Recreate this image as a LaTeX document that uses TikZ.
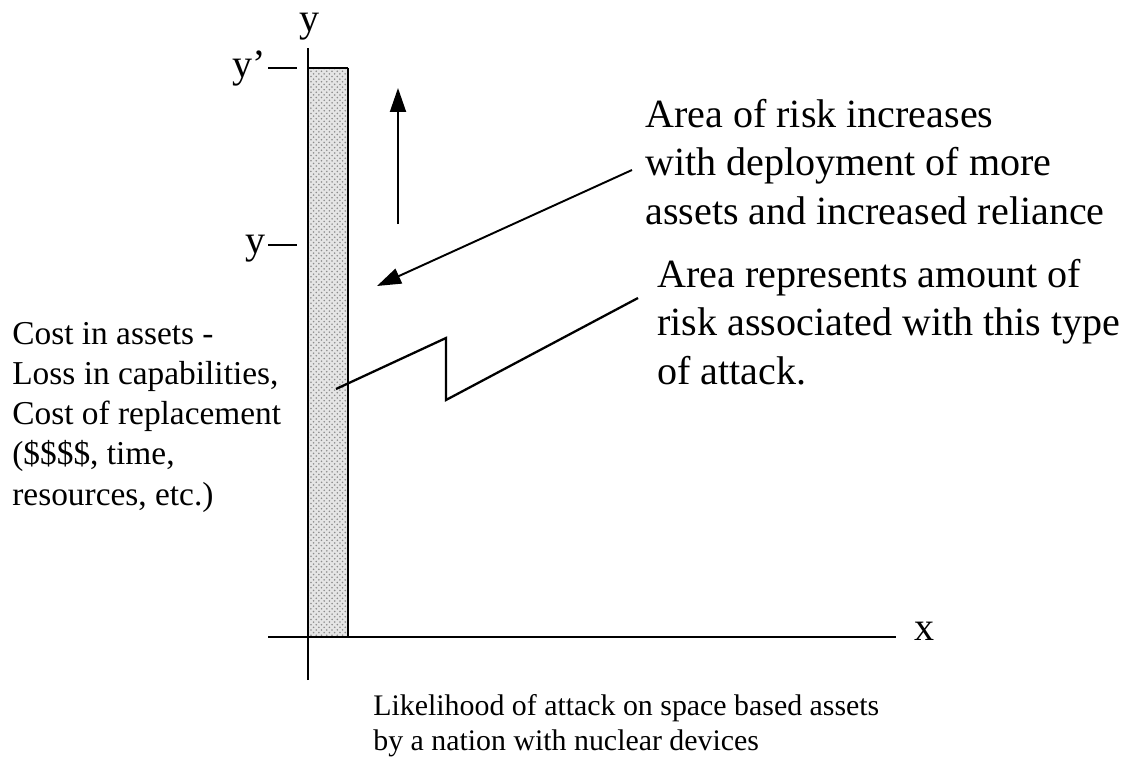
\documentclass[tikz,border=0pt]{standalone}
\usepackage{fontspec}
\setmainfont{Liberation Serif}
\usepackage{tikz}
\usetikzlibrary{arrows.meta, patterns}
\newcommand{\bigtext}{\fontsize{22.8}{27.4}\selectfont}
\newcommand{\midtext}{\fontsize{19}{22.8}\selectfont}
\newcommand{\smalltext}{\fontsize{17}{19.9}\selectfont}

\begin{document}
\begin{tikzpicture}[x=0.02cm, y=-0.02cm]
\useasboundingbox (0,0) rectangle (1130,767);

% shaded area of risk, stippled
\fill[black!10] (308,68) rectangle (348,637);
\fill[pattern=crosshatch dots, pattern color=black!45] (308,68) rectangle (348,637);

% labels, placed at the baseline of their last line
\begin{scope}[every node/.style={inner sep=0pt, anchor=base west, align=left}]
    \node[anchor=base, font=\bigtext] (Y) at (310,32) {y};
    \node[font=\bigtext] (X) at (914,640) {x};
    \node[anchor=base east, font=\bigtext] (Yp) at (266,78) {y’};
    \node[anchor=base east, font=\bigtext] (Y0) at (266,254) {y};
    \node[font=\bigtext] (Grow) at (645,224)
        {Area of risk increases\\with deployment of more\\assets and increased reliance};
    \node[font=\bigtext] (Amount) at (657,384)
        {Area represents amount of\\risk associated with this type\\of attack.};
    \node[font=\midtext] (Cost) at (12,505)
        {Cost in assets -\\Loss in capabilities,\\Cost of replacement\\(\$\$\$\$, time,\\resources, etc.)};
    \node[font=\smalltext] (Likely) at (373,750)
        {Likelihood of attack on space based assets\\by a nation with nuclear devices};
\end{scope}

\coordinate (Ytop) at (308,48);
\coordinate (Ybot) at (308,680);
\coordinate (Xleft) at (268,637);
\coordinate (Xright) at (896,637);
\coordinate (BarNW) at (308,68);
\coordinate (BarNE) at (348,68);
\coordinate (BarSE) at (348,637);
\coordinate (TickA) at (268,68);
\coordinate (TickAend) at (297,68);
\coordinate (TickB) at (268,245);
\coordinate (TickBend) at (297,245);
\coordinate (Up0) at (398,224);
\coordinate (Up1) at (398,88);
\coordinate (Grow0) at (632,170);
\coordinate (Grow1) at (377,286);
\coordinate (Z0) at (336,389);
\coordinate (Z1) at (446,338);
\coordinate (Z2) at (446,400);
\coordinate (Z3) at (638,298);

\begin{scope}[>={Triangle[length=4.8mm,width=3.2mm]},
              every edge/.style={draw=black,line width=1.1pt}]
    \path [-] (Ybot) edge (Ytop);
    \path [-] (Xleft) edge (Xright);
    \path [-] (BarNW) edge (BarNE);
    \path [-] (BarNE) edge (BarSE);
    \path [-] (TickA) edge (TickAend);
    \path [-] (TickB) edge (TickBend);
    \path [->] (Up0) edge (Up1);
    \path [->] (Grow0) edge (Grow1);
    \draw [line width=1.3pt, line join=miter] (Z0) -- (Z1) -- (Z2) -- (Z3);
\end{scope}
\end{tikzpicture}
\end{document}
